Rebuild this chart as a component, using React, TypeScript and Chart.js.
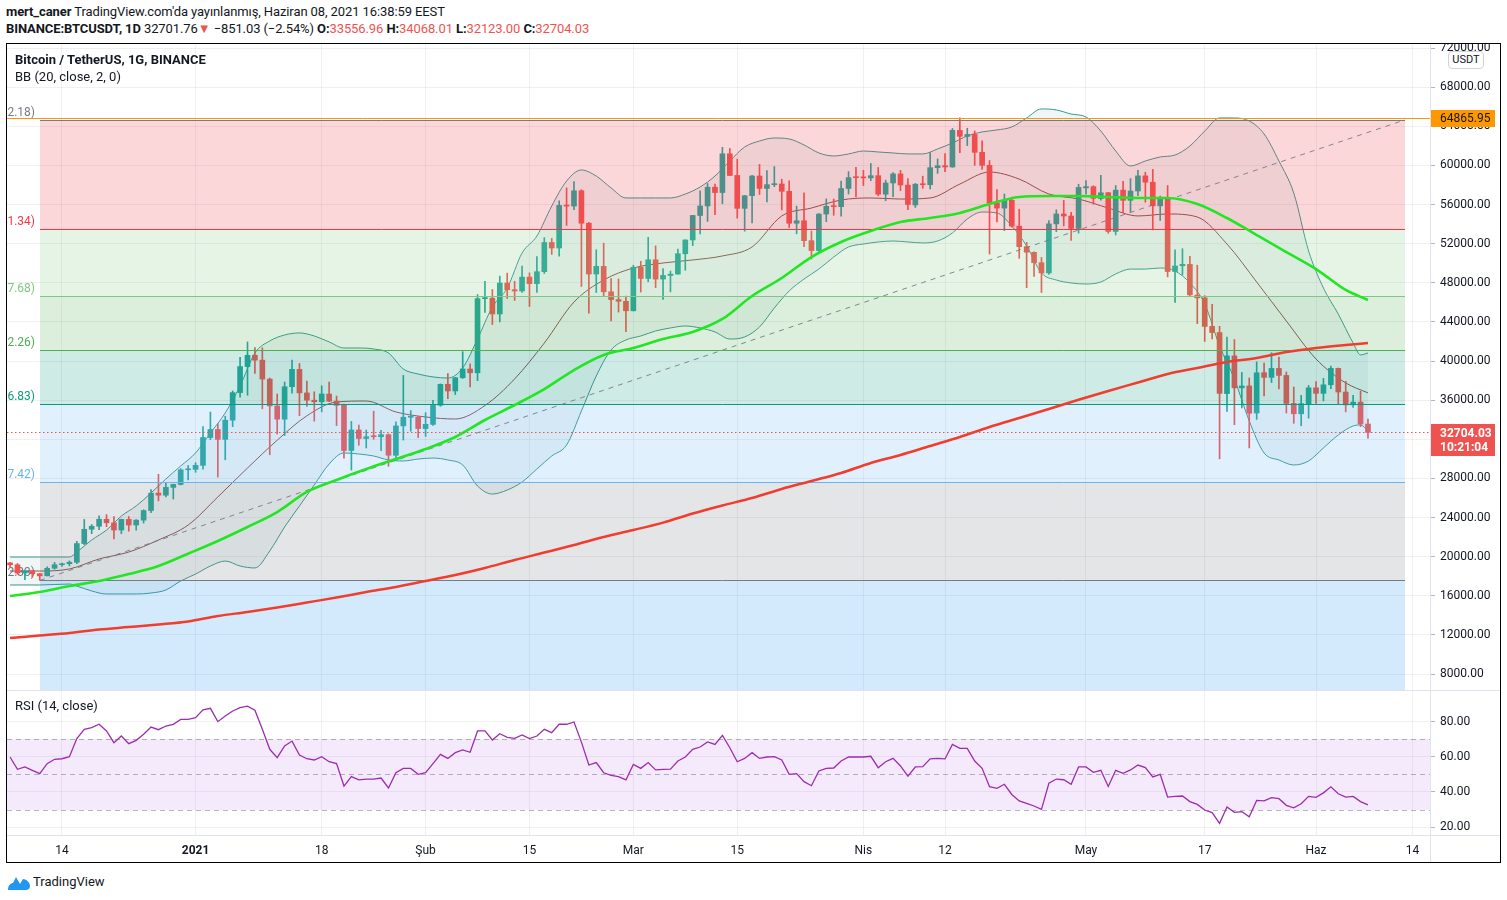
import React, { useEffect, useRef } from "react";
import { Chart, registerables } from "chart.js";

Chart.register(...registerables);

const FONT = "Roboto, 'Noto Sans', Arial, sans-serif";
const TEXT = "#131722";
const UP = "#26a69a";
const DOWN = "#ef5350";
const GRID = "rgba(42,46,57,0.07)";

// Daily candles, index 0 = 2020-12-07 ... index 183 = 2021-06-08
const opens = [
  19359.4, 19166.9, 18324.11, 18541.29, 18254.81, 18036.53, 18808.69, 19174.99, 19273.69, 19426.43, 21335.52, 22797.15, 23107.39, 23821.6, 23455.54, 22719.88, 23810.79, 23232.39, 23728.99, 24712.47, 26493.4, 26281.54, 27079.42, 27385.0, 28875.55,
  28923.63, 29331.7, 32176.45, 33000.05, 31989.75, 33949.53, 36769.36, 39432.48, 40586.96, 40088.22, 38150.02, 35410.37, 34049.15, 37371.38, 39145.21, 36737.43, 35994.98, 35824.99, 36622.46, 35901.94, 35468.23, 30851.99, 32950.0, 32078.0, 32259.45, 32254.19, 32464.01, 30362.19, 33368.18, 34246.28, 34262.89,
  33092.97, 33517.09, 35472.71, 37620.26, 36936.65, 38289.32, 39181.01, 38795.69, 46374.86, 46420.42, 44807.58, 47968.66, 47298.15, 47156.78, 48580.47, 47911.1, 49133.45, 52117.67, 51552.61, 55906.0, 55841.19, 57412.35, 54087.67, 48891.0, 49676.21, 47073.73, 46276.88, 46103.67,
  45134.11, 49595.76, 48436.61, 50349.37, 48374.09, 48746.81, 48882.2, 50959.11, 52375.18, 54874.67, 55851.59, 57773.15, 57221.72, 61188.38, 58976.08, 55605.2, 56900.74, 58912.97, 57641.0, 58030.01, 58100.02, 57351.56, 54083.25, 54342.8, 52303.66, 51293.78, 55025.59, 55817.14, 55777.65, 57635.46, 58746.57,
  58739.46, 58720.45, 58950.01, 57051.95, 58202.01, 59129.99, 57990.03, 55953.45, 58077.52, 58020.47, 59769.13, 59964.87, 59834.74, 63576.0, 62959.53, 63158.74, 61334.81, 60006.67, 56150.01, 55633.14, 56425.0, 53787.62, 51690.95, 51110.56, 50047.84, 49004.25, 54021.76, 55033.12, 54824.01, 53555.0,
  57697.25, 57828.45, 56610.46, 57213.33, 53241.71, 57473.0, 56428.16, 57380.74, 58928.8, 58280.73, 55859.79, 56704.61, 49150.0, 49735.43, 49878.77, 46742.4, 46456.58, 43538.04, 42909.4, 36671.23, 40526.64, 37253.26, 37454.15, 34681.44, 38810.99, 38324.72, 39241.92, 38529.99, 35661.79, 34605.15, 35641.26,
  37253.82, 36694.85, 37568.68, 39246.78, 36829.15, 35516.07, 35796.31, 33556.96,
];
const highs = [
  19420.0, 19294.84, 18639.57, 18557.32, 18292.73, 18948.66, 19411.0, 19349.0, 19570.0, 21560.0, 23800.0, 23285.18, 24171.47, 24295.0, 24102.77, 23837.1, 24100.0, 23794.43, 24789.86, 26867.03, 28422.0, 27500.0, 27410.0, 28996.0, 29300.0,
  29600.0, 33300.0, 34778.11, 33600.0, 34360.0, 36939.21, 40365.0, 41950.0, 41380.0, 41350.0, 38264.74, 36628.0, 37850.0, 40100.0, 39747.76, 37950.0, 36852.5, 37469.83, 37850.0, 36415.31, 35600.0, 33826.53, 33456.0, 32944.0, 34875.0, 32921.88, 32557.29, 33783.98, 38531.9, 34933.0, 34342.69,
  34717.27, 35984.33, 37662.63, 38708.27, 38310.12, 40955.51, 39700.0, 46794.45, 48142.19, 47310.0, 48678.9, 48985.8, 48150.0, 49707.43, 49010.92, 50689.18, 52618.74, 52530.0, 56368.0, 57700.46, 58352.8, 57508.47, 54183.59, 51374.99, 52041.73, 48424.11, 48394.0, 46638.46,
  49790.0, 50200.0, 52640.0, 51773.88, 49448.93, 49200.0, 51450.03, 52402.78, 54895.0, 57387.69, 58150.0, 58081.51, 61844.0, 61724.79, 60633.43, 56934.14, 58974.73, 60100.0, 59468.0, 59880.0, 58589.1, 58430.73, 55830.9, 57200.0, 53287.0, 55073.46, 56573.45, 56559.75, 58405.82, 59368.0, 59800.0,
  59490.0, 60200.0, 59791.72, 58492.85, 59272.0, 59495.24, 58655.0, 58153.31, 58894.9, 61300.0, 60658.89, 61199.0, 63777.77, 64854.0, 63800.0, 63520.61, 62506.05, 60499.0, 57526.81, 57076.24, 56757.91, 55521.48, 52131.85, 51166.22, 50587.37, 54356.62, 55460.0, 56428.0, 55200.0, 58075.01,
  58458.07, 57911.02, 58981.44, 57214.78, 57939.36, 58360.0, 58650.0, 59500.0, 59300.52, 59592.2, 56862.43, 57939.0, 51367.19, 51483.0, 50700.0, 49795.89, 46686.0, 45799.29, 43546.11, 42451.67, 42200.0, 38829.0, 38270.64, 39920.0, 39791.77, 40841.0, 40411.14, 38877.83, 37338.58, 36488.0, 37499.0,
  37894.81, 38225.0, 39476.0, 39289.07, 37925.0, 36480.0, 36900.0, 34068.01,
];
const lows = [
  18902.88, 18200.0, 17650.0, 17911.12, 17572.33, 18020.7, 18711.12, 19000.0, 19050.0, 19278.6, 21230.0, 22350.0, 22750.0, 23060.0, 21815.0, 22353.4, 22600.0, 22703.42, 23433.6, 24500.0, 25700.0, 26101.0, 25880.0, 27320.0, 27850.0,
  28624.57, 28946.53, 31962.99, 28130.0, 29900.0, 33288.0, 36300.0, 36500.0, 38720.0, 35111.11, 30420.0, 32531.0, 32380.0, 36701.23, 34408.0, 35357.8, 33850.0, 34800.0, 35844.06, 33400.0, 30071.0, 28850.0, 31390.16, 31106.0, 32000.02, 30837.37, 29241.72, 29842.1, 31915.4, 32825.0, 32171.67,
  32296.16, 33418.0, 35362.38, 36161.95, 36570.0, 38215.94, 37351.0, 37988.89, 44961.09, 43727.0, 43994.02, 46400.0, 46202.53, 47014.17, 45570.79, 47003.62, 48947.0, 50901.9, 50710.2, 53863.93, 55477.59, 47622.0, 44892.56, 47000.0, 46674.34, 44106.78, 45000.0, 43000.0,
  45115.09, 47047.6, 48100.71, 47500.0, 46300.0, 47070.0, 48882.2, 49274.67, 51789.41, 53005.0, 54272.82, 54962.84, 56078.23, 58966.78, 54600.0, 53271.34, 54123.69, 57023.0, 56270.74, 57820.17, 55450.11, 53650.0, 53000.0, 51700.0, 50427.56, 51214.6, 54242.0, 54897.1, 54800.01, 57071.35, 56769.0,
  57935.45, 58434.6, 56880.0, 56388.0, 56800.0, 57413.02, 55473.0, 55700.0, 57654.0, 57587.0, 59177.35, 59365.0, 59805.15, 61301.0, 62020.0, 60000.0, 59580.91, 50931.3, 54221.58, 53329.96, 53695.01, 50500.0, 47500.0, 48657.14, 47000.0, 48852.27, 53222.0, 53813.16, 52330.94, 53068.43,
  57052.27, 56035.25, 56450.0, 53046.69, 52888.0, 55200.0, 55241.63, 56900.0, 56235.66, 53400.0, 54370.0, 48600.0, 46000.0, 48800.0, 46650.0, 43825.39, 42001.0, 42250.02, 30000.0, 34850.0, 33488.0, 35200.62, 31111.0, 34031.0, 36419.62, 37800.44, 37134.27, 34684.0, 33632.76, 33379.0, 34153.84,
  35666.0, 35920.0, 37170.0, 35555.15, 34800.0, 35258.0, 33300.0, 32123.0,
];
const closes = [
  19166.9, 18324.11, 18541.28, 18254.63, 18036.53, 18808.69, 19174.99, 19273.14, 19426.43, 21335.52, 22797.16, 23107.39, 23821.61, 23455.52, 22719.71, 23810.79, 23232.76, 23729.2, 24712.47, 26493.39, 26281.66, 27079.41, 27385.0, 28875.54, 28923.63,
  29331.69, 32178.33, 33000.05, 31988.71, 33949.53, 36769.36, 39432.28, 40582.81, 40088.22, 38150.02, 35404.47, 34051.24, 37371.38, 39144.5, 36742.22, 35994.98, 35828.61, 36631.27, 35891.49, 35468.23, 30850.13, 32945.17, 32078.0, 32259.9, 32254.2, 32467.77, 30366.15, 33364.86, 34252.2, 34262.88, 33092.98,
  33526.37, 35466.24, 37618.87, 36936.66, 38290.24, 39186.94, 38795.69, 46374.87, 46420.42, 44807.58, 47969.51, 47287.6, 47153.69, 48577.79, 47911.1, 49133.45, 52119.71, 51552.6, 55906.0, 55841.19, 57408.57, 54087.67, 48891.0, 49676.2, 47073.73, 46276.87, 46106.43, 45135.66,
  49587.03, 48440.65, 50349.37, 48374.09, 48751.71, 48882.2, 50971.75, 52375.17, 54884.5, 55851.59, 57773.16, 57221.72, 61188.39, 58968.31, 55605.2, 56900.75, 58912.97, 57648.16, 58030.01, 58102.28, 57351.56, 54083.25, 54340.89, 52303.65, 51293.78, 55025.59, 55817.14, 55777.63, 57635.47, 58746.57, 58740.55,
  58720.44, 58950.01, 57051.94, 58202.01, 59129.99, 57991.15, 56000.0, 58079.05, 58020.46, 59769.13, 59964.87, 59834.74, 63588.22, 62969.12, 63159.98, 61334.8, 60006.66, 56150.01, 55633.14, 56425.0, 53787.63, 51690.96, 51125.14, 50047.84, 49004.25, 54021.75, 55033.11, 54824.7, 53555.0, 57750.17,
  57828.51, 56631.79, 57200.29, 53241.72, 57473.0, 56428.16, 57380.74, 58928.81, 58280.73, 55859.8, 56704.6, 49150.0, 49716.19, 49880.42, 46760.62, 46456.59, 43537.51, 42909.4, 36690.09, 40526.64, 37252.01, 37449.73, 34655.25, 38796.29, 38324.72, 39241.91, 38529.98, 35663.49, 34605.15, 35641.27, 37253.81,
  36693.09, 37568.68, 39246.79, 36829.0, 35513.2, 35796.31, 33552.79, 32704.03,
];

// Bollinger Bands (20, 2)
const bandDays = [
  0, 4, 8, 9, 11, 13, 15, 17, 19, 21, 23, 25, 27, 29, 31, 33, 35, 37, 39, 41, 43, 45, 47, 49, 51, 53, 55, 57, 59, 61, 63, 65, 67, 69, 71, 73, 75, 77, 79, 81, 83, 85, 87, 89, 91, 93, 95, 97, 99,
  101, 103, 105, 107, 109, 111, 113, 115, 117, 119, 121, 123, 125, 127, 129, 131, 133, 135, 137, 139, 141, 143, 145, 147, 149, 151, 153, 155, 157, 159, 161, 163, 165, 167, 169, 171, 173, 175, 177, 179, 181, 182, 183,
];
const bbUpper = [
  19960, 19960, 19960, 20470, 21700, 22720, 24150, 25180, 26510, 27940, 29270, 30600, 32640, 34690, 37450, 40820, 42050, 42660, 42870, 42560, 41950, 41330, 41330, 41230, 40820, 39180, 38670, 38370, 38260, 39290,
  42250, 45520, 47460, 51040, 52780, 55850, 58400, 59530, 58910, 57690, 56670, 56670, 56670, 56670, 57070, 57790, 58910, 60450, 61880, 62490, 62800, 62700, 62090, 61270, 60960, 61170, 61470, 61370, 61270, 61170,
  61170, 61680, 62290, 63010, 63420, 63620, 63930, 64850, 65770, 65670, 65250, 64950, 63510, 61470, 59940, 60450, 60860, 61060, 61980, 63510, 64850, 64850, 64540, 63210, 60450, 57170, 51250, 47460, 44800, 41840,
  40620, 40820,
];
const bbLower = [
  17100, 17100, 17200, 16990, 16490, 16180, 16180, 16180, 16280, 16590, 17510, 18220, 19040, 19550, 19040, 18840, 20580, 23030, 25180, 27330, 29470, 30600, 30490, 30290, 29880, 29780, 29980, 30080, 29880, 29370,
  27220, 26400, 26810, 27630, 28960, 30290, 31410, 34890, 38470, 41130, 42150, 42560, 43070, 43380, 43580, 43380, 42970, 42250, 42460, 43480, 45420, 47160, 48380, 49400, 50630, 51660, 51960, 52170, 52270, 52170,
  52070, 52270, 53090, 54520, 55230, 55130, 53800, 51760, 49000, 48280, 47980, 47870, 48080, 48900, 49400, 49400, 49510, 49200, 47980, 45830, 41540, 38160, 33870, 30600, 29880, 29370, 29780, 31110, 32440, 33360,
  33460, 32850,
];

// Basis and moving averages
const maDays = [0, 4, 8, 12, 16, 20, 24, 28, 32, 36, 40, 44, 48, 52, 56, 60, 64, 68, 72, 76, 80, 84, 88, 92, 96, 100, 104, 108, 112, 116, 120, 124, 128, 132, 136, 140, 144, 148, 152, 156, 160, 164, 168, 172, 176, 180, 183];
const bbBasis = [
  18530, 18530, 18740, 19760, 20470, 21700, 23230, 26100, 29060, 31900, 34400, 35810, 35910, 34790, 34280, 34070, 35450, 38170, 41840, 46030, 48280, 49510, 50020, 50330,
  50740, 51660, 54830, 55640, 56460, 56670, 56560, 56670, 58090, 59320, 58600, 57070, 56560, 55640, 54830, 55030, 54720, 51960, 48080, 44090, 40210, 37760, 36740,
];
const ma50 = [
  15970, 16380, 16990, 17510, 18220, 19040, 20300, 21600, 23030, 24560, 26610, 27840, 28960, 29980, 31000, 32230, 33970, 35500, 37130, 39080, 40620, 41330, 42250, 42970,
  44300, 46650, 48490, 50630, 52170, 53290, 54210, 54620, 55130, 56050, 56770, 56870, 56870, 56770, 56670, 56670, 56050, 54620, 52880, 51140, 49400, 47260, 46240,
];
const ma200 = [
  11680, 11930, 12190, 12550, 12800, 13060, 13370, 13930, 14340, 14800, 15310, 15820, 16380, 16900, 17510, 18120, 18840, 19660, 20420, 21190, 22010, 22720, 23480, 24410,
  25230, 25990, 26920, 27730, 28550, 29580, 30390, 31310, 32230, 33250, 34170, 35090, 36040, 36940, 37800, 38670, 39290, 39900, 40310, 40920, 41330, 41640, 41840,
];

// RSI (14), one value per candle
const rsiValues = [
  60.0, 53.0, 54.3, 52.4, 50.5, 56.2, 58.7, 59.0, 60.2, 70.5, 75.8, 76.8, 78.7, 74.9, 68.2, 72.0, 67.6, 69.5, 73.0, 77.1,
  75.6, 77.7, 78.7, 81.5, 81.5, 82.5, 86.9, 87.8, 80.2, 83.4, 86.3, 88.2, 89.1, 86.7, 75.8, 64.4, 59.6, 66.3, 69.1, 61.1,
  59.0, 58.3, 60.2, 57.3, 56.2, 43.4, 48.8, 46.9, 47.4, 47.4, 48.0, 42.3, 51.0, 53.5, 53.5, 50.1, 51.0, 56.2, 61.5, 59.2,
  62.5, 64.0, 62.7, 74.9, 74.9, 69.7, 73.3, 71.2, 70.7, 72.6, 70.5, 72.0, 75.8, 73.9, 78.7, 78.7, 80.0, 68.5,
  55.4, 56.8, 51.0, 49.5, 48.8, 46.9, 55.8, 53.5, 56.8, 52.6, 52.9, 53.1, 57.7, 60.0, 64.4, 65.7, 68.6, 67.2, 72.4, 65.3,
  57.3, 59.2, 62.5, 59.2, 60.0, 60.2, 58.3, 50.1, 50.5, 45.9, 43.6, 52.0, 53.5, 53.7, 57.7, 60.0, 60.0, 60.0, 60.4, 53.9,
  57.3, 59.2, 54.9, 49.0, 54.3, 54.5, 58.9, 59.2, 58.9, 67.2, 64.9, 64.9, 57.7, 53.5, 43.0, 42.1, 44.4, 38.6, 34.9, 33.5,
  32.0, 30.1, 45.0, 47.4, 47.0, 44.4, 54.3, 54.3, 51.2, 52.4, 43.2, 52.4, 50.7, 52.6, 55.4, 53.9, 48.6, 50.1, 37.1, 37.5,
  37.7, 34.5, 32.9, 29.7, 28.2, 22.1, 31.5, 28.4, 28.8, 25.9, 35.2, 34.9, 36.8, 36.2, 32.4, 31.0, 33.3, 37.5, 36.9, 39.5,
  43.0, 39.0, 37.1, 37.5, 34.5, 32.6,
];

// Fibonacci retracement drawing
const fibNames = ["0", "0.236", "0.382", "0.5", "0.618", "0.786", "1"];
const fibPrices = [64652.18, 53541.34, 46667.68, 41112.26, 35556.83, 27647.42, 17572.33];
const fibStartDay = 4;
const fibEndDay = 188;
const fibLineColors = ["#787b86", "#f23645", "#81c784", "#4caf50", "#089981", "#64b5f6", "#787b86"];
const fibFillColors = [
  "rgba(242,54,69,0.2)",
  "rgba(129,199,132,0.2)",
  "rgba(76,175,80,0.2)",
  "rgba(8,153,129,0.2)",
  "rgba(100,181,246,0.2)",
  "rgba(120,123,134,0.2)",
  "rgba(33,150,243,0.2)",
];

const hLinePrice = 64865.95;
const lastPrice = 32704.03;
const countdown = "10:21:04";

const xTickDays = [7, 25, 42, 56, 70, 84, 98, 115, 126, 145, 161, 176, 189];
const xTickLabels = ["14", "2021", "18", "Şub", "15", "Mar", "15", "Nis", "12", "May", "17", "Haz", "14"];
const priceTicks = [8000, 12000, 16000, 20000, 24000, 28000, 32000, 36000, 40000, 44000, 48000, 52000, 56000, 60000, 64000, 68000, 72000];
const rsiTicks = [20, 40, 60, 80];
const rsiLevels = [70, 50, 30];

const X_MIN = -0.412;
const X_MAX = 191.36;

const mainPlugin = {
  id: "tvMain",
  beforeDatasetsDraw(chart: any) {
    const { ctx, scales } = chart;
    const x0 = Math.round(scales.x.getPixelForValue(fibStartDay));
    ctx.save();
    ctx.font = `12px ${FONT}`;
    ctx.textAlign = "right";
    ctx.textBaseline = "middle";
    fibPrices.forEach((p, i) => {
      const y = Math.round(scales.y.getPixelForValue(p));
      ctx.fillStyle = fibLineColors[i];
      ctx.fillText(`${fibNames[i]}(${p.toFixed(2)})`, x0 - 5, y - 7);
    });
    ctx.restore();
  },
  afterDatasetDraw(chart: any, args: any) {
    if (chart.data.datasets[args.index].label !== "bodies") return;
    const { ctx, chartArea: a, scales } = chart;
    const xs = scales.x;
    const ys = scales.y;
    const x0 = Math.round(xs.getPixelForValue(fibStartDay));
    const x1 = Math.round(xs.getPixelForValue(fibEndDay));
    const last = fibPrices[fibPrices.length - 1];
    const range = fibPrices[0] - last;
    const bounds = [...fibPrices, last - 0.618 * range];
    ctx.save();
    ctx.beginPath();
    ctx.rect(a.left, a.top, a.right - a.left, a.bottom - a.top);
    ctx.clip();
    for (let i = 0; i < fibFillColors.length; i++) {
      const ya = Math.round(ys.getPixelForValue(bounds[i]));
      const yb = Math.round(ys.getPixelForValue(bounds[i + 1]));
      ctx.fillStyle = fibFillColors[i];
      ctx.fillRect(x0, ya, x1 - x0, yb - ya);
    }
    ctx.lineWidth = 1;
    fibPrices.forEach((p, i) => {
      const y = Math.round(ys.getPixelForValue(p)) + 0.5;
      ctx.strokeStyle = fibLineColors[i];
      ctx.beginPath();
      ctx.moveTo(x0, y);
      ctx.lineTo(x1, y);
      ctx.stroke();
    });
    ctx.setLineDash([5, 5]);
    ctx.strokeStyle = "rgba(120,123,134,0.9)";
    ctx.beginPath();
    ctx.moveTo(x0, ys.getPixelForValue(last));
    ctx.lineTo(x1, ys.getPixelForValue(fibPrices[0]));
    ctx.stroke();
    ctx.restore();
  },
  afterDraw(chart: any) {
    const { ctx, chartArea: a, scales } = chart;
    const ys = scales.y;
    const yo = Math.round(ys.getPixelForValue(hLinePrice)) + 0.5;
    const yc = Math.round(ys.getPixelForValue(lastPrice)) + 0.5;
    ctx.save();
    ctx.lineWidth = 1;
    ctx.strokeStyle = "#ff9800";
    ctx.beginPath();
    ctx.moveTo(a.left, yo);
    ctx.lineTo(a.right, yo);
    ctx.stroke();
    ctx.strokeStyle = "#ef5350";
    ctx.setLineDash([1.5, 2.5]);
    ctx.beginPath();
    ctx.moveTo(a.left, yc);
    ctx.lineTo(a.right, yc);
    ctx.stroke();
    ctx.setLineDash([]);
    ctx.fillStyle = "#ff9800";
    ctx.fillRect(a.right, yo - 8.5, 65, 17);
    ctx.fillStyle = TEXT;
    ctx.font = `12px ${FONT}`;
    ctx.textAlign = "left";
    ctx.textBaseline = "middle";
    ctx.fillText(hLinePrice.toFixed(2), a.right + 10, yo + 0.5);
    ctx.fillStyle = "#ef5350";
    ctx.fillRect(a.right, yc - 8.5, 65, 32);
    ctx.fillStyle = "#ffffff";
    ctx.font = `bold 12px ${FONT}`;
    ctx.fillText(lastPrice.toFixed(2), a.right + 10, yc + 1);
    ctx.fillText(countdown, a.right + 10, yc + 15);
    ctx.restore();
  },
};

const rsiPlugin = {
  id: "rsiBand",
  beforeDatasetsDraw(chart: any) {
    const { ctx, chartArea: a, scales } = chart;
    const ys = scales.y;
    const y70 = ys.getPixelForValue(70);
    const y30 = ys.getPixelForValue(30);
    ctx.save();
    ctx.fillStyle = "rgba(171,71,230,0.12)";
    ctx.fillRect(a.left, Math.round(y70), a.right - a.left, Math.round(y30) - Math.round(y70));
    ctx.strokeStyle = "rgba(120,123,134,0.55)";
    ctx.lineWidth = 1;
    ctx.setLineDash([5, 4]);
    rsiLevels.forEach((v) => {
      const y = Math.round(ys.getPixelForValue(v)) + 0.5;
      ctx.beginPath();
      ctx.moveTo(a.left, y);
      ctx.lineTo(a.right, y);
      ctx.stroke();
    });
    ctx.restore();
  },
};

function lineSet(label: string, days: number[], vals: number[], color: string, width: number, order: number, extra: any = {}) {
  return {
    type: "line",
    label,
    data: days.map((d, i) => ({ x: d, y: vals[i] })),
    borderColor: color,
    borderWidth: width,
    pointRadius: 0,
    pointHoverRadius: 0,
    cubicInterpolationMode: "monotone",
    fill: false,
    order,
    ...extra,
  };
}

export default function App() {
  const mainRef = useRef<HTMLCanvasElement>(null);
  const rsiRef = useRef<HTMLCanvasElement>(null);

  useEffect(() => {
    Chart.defaults.font.family = FONT;
    Chart.defaults.color = TEXT;
    const idx = opens.map((_, i) => i);
    const colors = idx.map((i) => (closes[i] >= opens[i] ? UP : DOWN));

    const main = new Chart(mainRef.current as HTMLCanvasElement, {
      type: "bar",
      data: {
        datasets: [
          lineSet("bbUpper", bandDays, bbUpper, "#3a9690", 1, 10, { fill: "+1", backgroundColor: "rgba(0,110,100,0.06)" }),
          lineSet("bbLower", bandDays, bbLower, "#3a9690", 1, 9),
          lineSet("bbBasis", maDays, bbBasis, "#8a4f4b", 1, 8),
          {
            type: "bar",
            label: "wicks",
            data: idx.map((i) => ({ x: i, y: [lows[i], highs[i]] })),
            backgroundColor: colors,
            barThickness: 1,
            grouped: false,
            order: 7,
          },
          {
            type: "bar",
            label: "bodies",
            data: idx.map((i) => ({ x: i, y: [opens[i], closes[i]] })),
            backgroundColor: colors,
            barThickness: 5,
            minBarLength: 1,
            grouped: false,
            order: 6,
          },
          lineSet("ma200", maDays, ma200, "#f23c2d", 2.5, 5),
          lineSet("ma50", maDays, ma50, "#22e622", 2.6, 4),
        ] as any,
      },
      options: {
        responsive: false,
        animation: false,
        events: [],
        layout: { padding: 0 },
        plugins: { legend: { display: false }, tooltip: { enabled: false } },
        scales: {
          x: {
            type: "linear",
            min: X_MIN,
            max: X_MAX,
            offset: false,
            afterBuildTicks: (s: any) => {
              s.ticks = xTickDays.map((v) => ({ value: v }));
            },
            afterFit: (s: any) => {
              s.height = 0;
              s.paddingLeft = 0;
              s.paddingRight = 0;
            },
            ticks: { display: false },
            grid: { color: GRID, drawTicks: false, offset: false },
            border: { display: false },
          },
          y: {
            type: "linear",
            position: "right",
            min: 6365,
            max: 72410,
            afterBuildTicks: (s: any) => {
              s.ticks = priceTicks.map((v) => ({ value: v }));
            },
            afterFit: (s: any) => {
              s.width = 70;
              s.paddingTop = 0;
              s.paddingBottom = 0;
            },
            ticks: {
              color: TEXT,
              font: { family: FONT, size: 12 },
              padding: 5,
              autoSkip: false,
              callback: (v: any) => Number(v).toFixed(2),
            },
            grid: { color: GRID, tickLength: 5, tickColor: "#b2b5be" },
            border: { display: false },
          },
        },
      } as any,
      plugins: [mainPlugin],
    });

    const rsi = new Chart(rsiRef.current as HTMLCanvasElement, {
      type: "line",
      data: {
        datasets: [
          {
            label: "RSI",
            data: rsiValues.map((v, i) => ({ x: i, y: v })),
            borderColor: "#9c2ead",
            borderWidth: 1.3,
            pointRadius: 0,
            pointHoverRadius: 0,
            tension: 0,
            fill: false,
          },
        ],
      },
      options: {
        responsive: false,
        animation: false,
        events: [],
        layout: { padding: 0 },
        plugins: { legend: { display: false }, tooltip: { enabled: false } },
        scales: {
          x: {
            type: "linear",
            min: X_MIN,
            max: X_MAX,
            afterBuildTicks: (s: any) => {
              s.ticks = xTickDays.map((v) => ({ value: v }));
            },
            afterFit: (s: any) => {
              s.height = 27;
              s.paddingLeft = 0;
              s.paddingRight = 0;
            },
            ticks: {
              autoSkip: false,
              maxRotation: 0,
              padding: 9,
              color: TEXT,
              font: (c: any) => ({ family: FONT, size: 12, weight: c.index === 1 ? "bold" : "normal" }),
              callback: (_v: any, i: number) => xTickLabels[i] ?? "",
            },
            grid: { color: GRID, drawTicks: false },
            border: { display: false },
          },
          y: {
            type: "linear",
            position: "right",
            min: 15.43,
            max: 97.71,
            afterBuildTicks: (s: any) => {
              s.ticks = rsiTicks.map((v) => ({ value: v }));
            },
            afterFit: (s: any) => {
              s.width = 70;
              s.paddingTop = 0;
              s.paddingBottom = 0;
            },
            ticks: {
              color: TEXT,
              font: { family: FONT, size: 12 },
              padding: 5,
              callback: (v: any) => Number(v).toFixed(2),
            },
            grid: { color: GRID, tickLength: 5, tickColor: "#b2b5be" },
            border: { display: false },
          },
        },
      } as any,
      plugins: [rsiPlugin],
    });

    return () => {
      main.destroy();
      rsi.destroy();
    };
  }, []);

  const red = { color: "#ef5350" };
  return (
    <div style={{ position: "absolute", left: 0, top: 0, width: 1507, height: 900, background: "#fff", fontFamily: FONT, color: TEXT, overflow: "hidden" }}>
      <div style={{ position: "absolute", left: 6, top: 4, fontSize: 13, lineHeight: "16px", whiteSpace: "nowrap", letterSpacing: "-0.1px" }}>
        <b>mert_caner</b> TradingView.com'da yayınlanmış, Haziran 08, 2021 16:38:59 EEST
      </div>
      <div style={{ position: "absolute", left: 6, top: 21, fontSize: 13, lineHeight: "16px", whiteSpace: "nowrap", letterSpacing: "-0.1px" }}>
        <b>BINANCE:BTCUSDT, 1D</b> 32701.76<span style={red}>▼</span> −851.03 (−2.54%) <b>O:</b>
        <span style={red}>33556.96</span> <b>H:</b>
        <span style={red}>34068.01</span> <b>L:</b>
        <span style={red}>32123.00</span> <b>C:</b>
        <span style={red}>32704.03</span>
      </div>

      <canvas ref={mainRef} width={1493} height={646} style={{ position: "absolute", left: 7, top: 44 }} />
      <canvas ref={rsiRef} width={1493} height={171} style={{ position: "absolute", left: 7, top: 691 }} />

      <div style={{ position: "absolute", left: 7, top: 690, width: 1493, height: 1, background: "#e0e3eb" }} />
      <div style={{ position: "absolute", left: 7, top: 835, width: 1493, height: 1, background: "#e0e3eb" }} />
      <div style={{ position: "absolute", left: 1430, top: 44, width: 1, height: 818, background: "#e0e3eb" }} />

      <div style={{ position: "absolute", left: 15, top: 52, fontSize: 13, lineHeight: "16px", fontWeight: 700, whiteSpace: "nowrap" }}>
        Bitcoin / TetherUS, 1G, BINANCE
      </div>
      <div style={{ position: "absolute", left: 15, top: 69, fontSize: 13, lineHeight: "16px", whiteSpace: "nowrap" }}>
        BB (20, close, 2, 0)
      </div>
      <div style={{ position: "absolute", left: 15, top: 698, fontSize: 13, lineHeight: "16px", whiteSpace: "nowrap" }}>
        RSI (14, close)
      </div>
      <div
        style={{
          position: "absolute",
          left: 1448,
          top: 51,
          width: 34,
          height: 16,
          border: "1px solid #d1d4dc",
          borderRadius: 4,
          background: "#fff",
          fontSize: 11,
          lineHeight: "16px",
          textAlign: "center",
        }}
      >
        USDT
      </div>

      <div style={{ position: "absolute", left: 6, top: 43, width: 1495, height: 820, border: "1px solid #000", boxSizing: "border-box", pointerEvents: "none" }} />

      <svg style={{ position: "absolute", left: 7, top: 874 }} width={24} height={17} viewBox="0 0 24 17">
        <path d="M1 16 C1 11 4 9 6 9 L9 3 L13 10 L16 5 C20 5 23 9 23 12 C23 14.5 21 16 19 16 Z" fill="#2196f3" />
      </svg>
      <div style={{ position: "absolute", left: 33, top: 874, fontSize: 13, lineHeight: "16px", whiteSpace: "nowrap" }}>TradingView</div>
    </div>
  );
}
